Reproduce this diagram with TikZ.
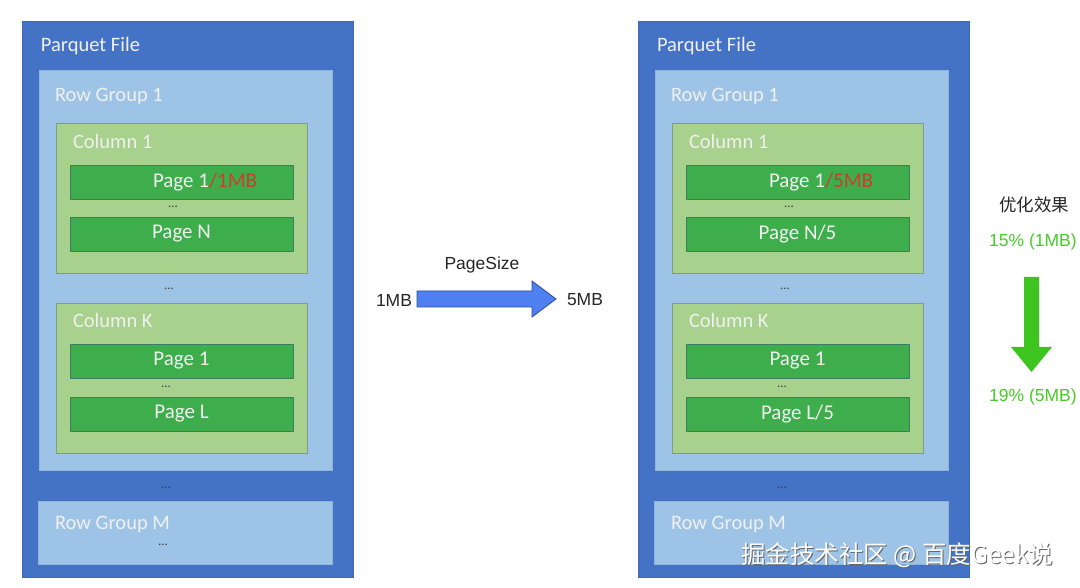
\documentclass[tikz,border=0pt]{standalone}
\usepackage{fontspec}
\setmainfont{Carlito}
\newfontfamily\arialf{Liberation Sans}
\newfontfamily\cjkf{Noto Sans CJK SC}
\definecolor{fileblue}{HTML}{4472C4}
\definecolor{fileedge}{HTML}{3F68B5}
\definecolor{rgblue}{HTML}{9DC3E6}
\definecolor{rgedge}{HTML}{8DB4DC}
\definecolor{colgreen}{HTML}{A9D18E}
\definecolor{coledge}{HTML}{7E9E8C}
\definecolor{pagegreen}{HTML}{3DAE4B}
\definecolor{pageedge}{HTML}{3C7D63}
\definecolor{redtxt}{HTML}{C8402A}
\definecolor{arrblue}{HTML}{4F80F2}
\definecolor{arredge}{HTML}{2C4C9C}
\definecolor{arrgreen}{HTML}{3EC41E}
\definecolor{txtgreen}{HTML}{45CC25}
\begin{document}
\begin{tikzpicture}[x=1pt,y=-1pt,
  every node/.style={inner sep=0pt,outer sep=0pt},
  filebox/.style={draw=fileedge,fill=fileblue,line width=0.8pt,anchor=north west},
  rgbox/.style={draw=rgedge,fill=rgblue,line width=0.8pt,anchor=north west},
  colbox/.style={draw=coledge,fill=colgreen,line width=0.8pt,anchor=north west},
  pagebox/.style={draw=pageedge,fill=pagegreen,line width=0.8pt,anchor=north west,minimum width=223pt,minimum height=34pt},
  lbl/.style={text=white!94!black,font=\fontsize{20.5}{22}\selectfont,anchor=west},
  plbl/.style={text=white!94!black,font=\fontsize{21}{22}\selectfont},
  dots/.style={text=black!75,font=\fontsize{13}{13}\selectfont},
  atxt/.style={font=\arialf\fontsize{17.5}{19}\selectfont,text=black!85},
]
\useasboundingbox (0,0) rectangle (1080,588);
\fill[white] (0,0) rectangle (1080,588);

\foreach \side/\dx/\pa/\pb/\pl/\dm in {L/0/1MB/N/L/{...}, R/616/5MB/N\slash 5/L\slash 5/{}}{
  \begin{scope}[xshift=\dx pt]
  \node[filebox,minimum width=331pt,minimum height=556pt] (file\side) at (22,21) {};
  \node[lbl] (fileT\side) at (41,46) {Parquet File};
  \node[rgbox,minimum width=293pt,minimum height=400pt] (rg\side) at (39,70) {};
  \node[lbl] (rgT\side) at (55,97) {Row Group 1};
  \node[colbox,minimum width=251pt,minimum height=150pt] (cA\side) at (56,123) {};
  \node[lbl] (cAT\side) at (73,141) {Column 1};
  \node[pagebox] (p1\side) at (70,165) {};
  \node[plbl,anchor=west] (p1T\side) at (153,182) {Page 1\textcolor{redtxt}{/\pa}};
  \node[dots] (d1\side) at (173,207) {...};
  \node[pagebox] (pN\side) at (70,217) {};
  \node[plbl] (pNT\side) at (181.5,234) {Page \pb};
  \node[dots] (d2\side) at (169,289) {...};
  \node[colbox,minimum width=251pt,minimum height=150pt] (cK\side) at (56,303) {};
  \node[lbl] (cKT\side) at (73,320) {Column K};
  \node[pagebox] (q1\side) at (70,344) {};
  \node[plbl] (q1T\side) at (181.5,361) {Page 1};
  \node[dots] (d3\side) at (166,387) {...};
  \node[pagebox] (qL\side) at (70,397) {};
  \node[plbl] (qLT\side) at (181.5,414) {Page \pl};
  \node[dots] (d4\side) at (166,488) {...};
  \node[rgbox,minimum width=294pt,minimum height=63pt] (rm\side) at (38,501) {};
  \node[lbl] (rmT\side) at (55,524) {Row Group M};
  \node[dots] (d5\side) at (163,545) {\dm};
  \end{scope}
}

% middle arrow
\node[atxt] (ps) at (482,265) {PageSize};
\node[atxt] (m1) at (394,300) {1MB};
\node[atxt] (m5) at (585,300) {5MB};
\draw[arredge,fill=arrblue,line width=0.8pt,line join=miter]
  (417,291) -- (532,291) -- (532,281) -- (556,299) -- (532,317) -- (532,307) -- (417,307) -- cycle;

% right side
\node[font=\cjkf\fontsize{17.5}{19}\selectfont,text=black!85] (opt) at (1034,205) {优化效果};
\node[atxt,text=txtgreen] (g1) at (1033,242) {15\% (1MB)};
\node[atxt,text=txtgreen] (g5) at (1033,397) {19\% (5MB)};
\fill[arrgreen] (1024,277) -- (1039,277) -- (1039,347) -- (1052,347) -- (1031.5,372) -- (1011,347) -- (1024,347) -- cycle;

% watermark
\node[font=\cjkf\fontsize{24.5}{26}\selectfont,text=black!60,anchor=west] (wms) at (742.2,556.2) {掘金技术社区 @ 百度Geek说};
\node[font=\cjkf\fontsize{24.5}{26}\selectfont,text=white,anchor=west] (wm) at (741,555) {掘金技术社区 @ 百度Geek说};
\end{tikzpicture}
\end{document}
